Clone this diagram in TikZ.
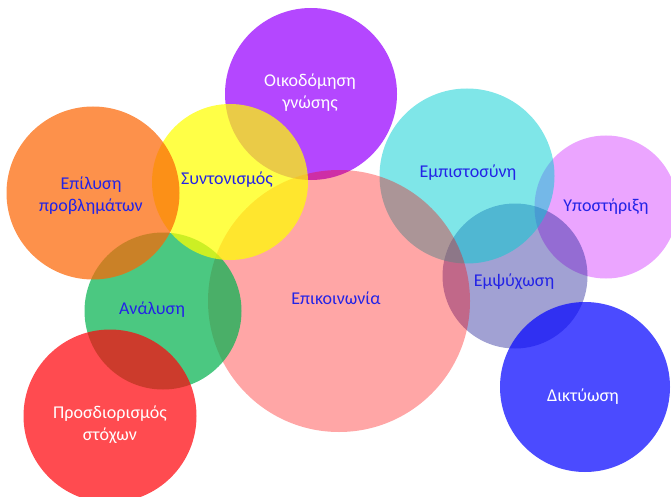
\documentclass[tikz,border=0pt]{standalone}
\usepackage{fontspec}
\setmainfont{Carlito}
\definecolor{cPurple}{RGB}{151,0,255}
\definecolor{cOrange}{RGB}{252,102,5}
\definecolor{cYellow}{RGB}{255,255,0}
\definecolor{cGreen}{RGB}{5,179,81}
\definecolor{cRed}{RGB}{255,5,12}
\definecolor{cPink}{RGB}{255,0,0}
\definecolor{cCyan}{RGB}{0,205,210}
\definecolor{cViolet}{RGB}{227,130,255}
\definecolor{cLav}{RGB}{30,30,150}
\definecolor{cBlue}{RGB}{5,5,255}
\definecolor{txtBlue}{RGB}{35,35,230}
\tikzset{
  bubble/.style={circle,inner sep=0pt,draw=none,fill opacity=0.72},
  lbl/.style={font=\fontsize{18}{22}\selectfont,align=center,inner sep=0pt,text=txtBlue},
  lblw/.style={lbl,text=white}
}
\begin{document}
\begin{tikzpicture}[x=1pt,y=-1pt]
\useasboundingbox (0,0) rectangle (671,497);
% circles, back to front
\node[bubble,fill=cPurple,minimum size=172pt] (cOik) at (311,94) {};
\node[bubble,fill=cViolet,minimum size=143pt] (cYpo) at (606,207) {};
\node[bubble,fill=cLav,fill opacity=0.42,minimum size=145pt] (cEmpsy) at (515,276) {};
\node[bubble,fill=cCyan,fill opacity=0.5,minimum size=175pt] (cEmpi) at (467,176) {};
\node[bubble,fill=cPink,fill opacity=0.35,minimum size=262pt] (cEpik) at (339,301) {};
\node[bubble,fill=cGreen,minimum size=157pt] (cAna) at (163,311) {};
\node[bubble,fill=cYellow,minimum size=156pt] (cSyn) at (230,182) {};
\node[bubble,fill=cOrange,minimum size=173pt] (cEpil) at (93,193) {};
\node[bubble,fill=cRed,minimum size=173pt] (cPros) at (110,416) {};
\node[bubble,fill=cBlue,minimum size=170pt] (cDik) at (585,387) {};
% labels
\node[lblw] (tOik) at (310,93) {Οικοδόμηση\\γνώσης};
\node[lbl] (tYpo) at (606,207) {Υποστήριξη};
\node[lbl] (tEmpsy) at (514,282) {Εμψύχωση};
\node[lbl] (tEmpi) at (468,173) {Εμπιστοσύνη};
\node[lbl] (tEpik) at (336,298) {Επικοινωνία};
\node[lbl] (tAna) at (152,310) {Ανάλυση};
\node[lbl] (tSyn) at (227,180) {Συντονισμός};
\node[lbl] (tEpil) at (91,196) {Επίλυση\\προβλημάτων};
\node[lblw] (tPros) at (110,425) {Προσδιορισμός\\στόχων};
\node[lblw] (tDik) at (583,397) {Δικτύωση};
\end{tikzpicture}
\end{document}
